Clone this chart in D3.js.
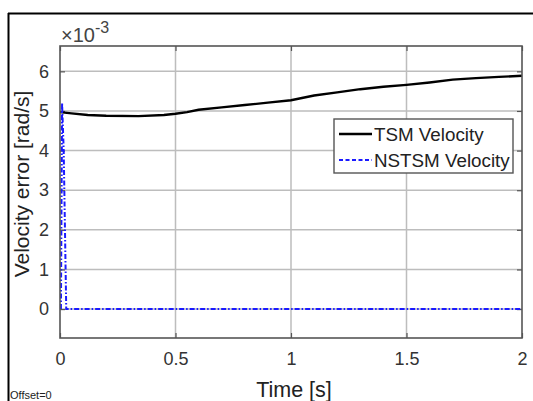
<!DOCTYPE html>
<html><head><meta charset="utf-8">
<script src="https://cdn.jsdelivr.net/npm/d3@7"></script>
<style>body{margin:0;background:#fff}svg{display:block}text{font-family:"Liberation Sans",Arial,sans-serif}</style>
</head><body>
<script>
const tsmTime = [0,0.05,0.12,0.2,0.34,0.45,0.5,0.55,0.6,0.7,0.8,0.9,1.0,1.1,1.2,1.3,1.4,1.5,1.6,1.7,1.8,1.9,2.0];
const tsmValue = [4.97,4.94,4.90,4.88,4.87,4.90,4.93,4.97,5.03,5.09,5.15,5.21,5.27,5.39,5.47,5.55,5.61,5.66,5.72,5.79,5.83,5.86,5.89];
const nstsmTime = [0.004,0.009,0.016,0.027,0.1,0.5,1.0,1.5,2.0];
const nstsmValue = [0,5.2,4.0,0,0,0,0,0,0];
const xTicks = [0,0.5,1,1.5,2];
const xTickLabels = ["0","0.5","1","1.5","2"];
const yTicks = [0,1,2,3,4,5,6];
const seriesNames = ["TSM Velocity","NSTSM Velocity"];

const W=533,H=401;
const svg=d3.select("body").append("svg").attr("width",W).attr("height",H);
const L=60,R=522,T=46,B=338;
const x=d3.scaleLinear().domain([0,2]).range([L,R]);
const y=d3.scaleLinear().domain([-0.73,6.64]).range([B,T]);

// outer frame
svg.append("line").attr("x1",8).attr("x2",533).attr("y1",13.5).attr("y2",13.5).attr("stroke","#000").attr("stroke-width",2.2);
svg.append("line").attr("x1",8.5).attr("x2",8.5).attr("y1",13).attr("y2",401).attr("stroke","#000").attr("stroke-width",2);

// grid
const g=svg.append("g");
g.selectAll(".gx").data(xTicks.slice(1,-1)).enter().append("line")
 .attr("x1",d=>x(d)).attr("x2",d=>x(d)).attr("y1",T).attr("y2",B).attr("stroke","#bdbdbd").attr("stroke-width",1.5);
g.selectAll(".gy").data(yTicks).enter().append("line")
 .attr("x1",L).attr("x2",R).attr("y1",d=>y(d)).attr("y2",d=>y(d)).attr("stroke","#bdbdbd").attr("stroke-width",1.5);

// axes
const xAxis=d3.axisBottom(x).tickValues(xTicks).tickFormat((d,i)=>xTickLabels[i]).tickSizeInner(-5).tickSizeOuter(0).tickPadding(14);
svg.append("g").attr("transform",`translate(0,${B})`).call(xAxis);
const xAxisTop=d3.axisTop(x).tickValues(xTicks).tickFormat("").tickSizeInner(-5).tickSizeOuter(0);
svg.append("g").attr("transform",`translate(0,${T})`).call(xAxisTop);
const yAxis=d3.axisLeft(y).tickValues(yTicks).tickFormat(d3.format("d")).tickSizeInner(-5).tickSizeOuter(0).tickPadding(11);
svg.append("g").attr("transform",`translate(${L},0)`).call(yAxis);
const yAxisR=d3.axisRight(y).tickValues(yTicks).tickFormat("").tickSizeInner(-5).tickSizeOuter(0);
svg.append("g").attr("transform",`translate(${R},0)`).call(yAxisR);
svg.selectAll(".domain").remove();
svg.selectAll(".tick line").attr("stroke","#555").attr("stroke-width",1.2);
svg.selectAll(".tick text").attr("font-size",18).attr("fill","#333").attr("font-family","Liberation Sans, Arial, sans-serif");

// data lines
const lineT=d3.line().x((d,i)=>x(tsmTime[i])).y(d=>y(d));
svg.append("path").datum(tsmValue).attr("d",lineT).attr("fill","none").attr("stroke","#000").attr("stroke-width",2.4);
const lineN=d3.line().x((d,i)=>x(nstsmTime[i])).y(d=>y(d));
svg.append("path").datum(nstsmValue).attr("d",lineN).attr("fill","none").attr("stroke","#1a1aff").attr("stroke-width",2).attr("stroke-dasharray","5,2,1.5,2");

// plot box
svg.append("rect").attr("x",L).attr("y",T).attr("width",R-L).attr("height",B-T).attr("fill","none").attr("stroke","#555").attr("stroke-width",1.6);

// exponent
const ex=svg.append("text").attr("x",61).attr("y",42).attr("fill","#444").attr("font-size",20);
ex.append("tspan").text("×10");
ex.append("tspan").attr("dy",-9).attr("font-size",16).text("-3");

// labels
svg.append("text").attr("transform",`translate(29,${(T+B)/2-8}) rotate(-90)`).attr("text-anchor","middle").attr("font-size",21).attr("fill","#222").text("Velocity error [rad/s]");
svg.append("text").attr("x",294).attr("y",397).attr("text-anchor","middle").attr("font-size",21.5).attr("fill","#222").text("Time [s]");
svg.append("text").attr("x",10).attr("y",399).attr("font-size",11).attr("fill","#222").text("Offset=0");

// legend
const lg=svg.append("g");
lg.append("rect").attr("x",334).attr("y",119).attr("width",179).attr("height",54).attr("fill","#fff").attr("stroke","#555").attr("stroke-width",1.4);
const legStyles=[{c:"#000",w:2.4,da:null},{c:"#1a1aff",w:2,da:"4,2.5"}];
seriesNames.forEach((n,i)=>{
  const yy=134+i*26;
  lg.append("line").attr("x1",339).attr("x2",372).attr("y1",yy).attr("y2",yy).attr("stroke",legStyles[i].c).attr("stroke-width",legStyles[i].w).attr("stroke-dasharray",legStyles[i].da);
  lg.append("text").attr("x",374).attr("y",yy+6.5).attr("font-size",18.8).attr("fill","#222").text(n);
});
</script>
</body></html>
